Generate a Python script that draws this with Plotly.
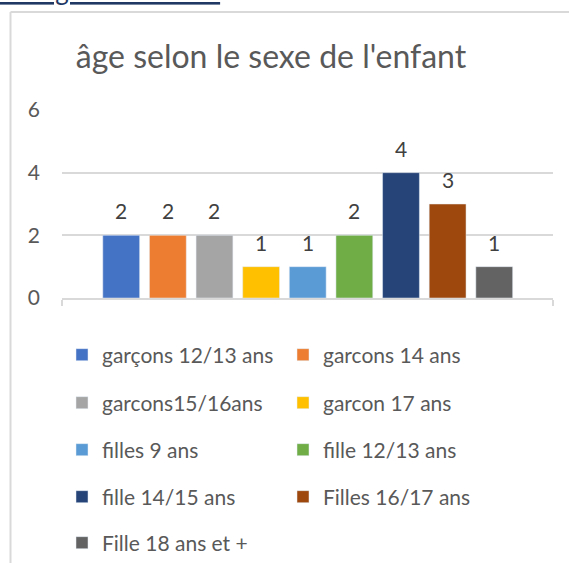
import plotly.graph_objects as go

series_names = ["garçons 12/13 ans", "garcons 14 ans", "garcons15/16ans", "garcon 17 ans",
                "filles 9 ans", "fille 12/13 ans", "fille 14/15 ans", "Filles 16/17 ans",
                "Fille 18 ans et +"]
series_values = [2, 2, 2, 1, 1, 2, 4, 3, 1]
series_colors = ["#4472C4", "#ED7D31", "#A5A5A5", "#FFC000", "#5B9BD5",
                 "#70AD47", "#264478", "#9E480E", "#636363"]
y_ticks = [0, 2, 4, 6]
title_text = "âge selon le sexe de l'enfant"
link_text = "sur l'âge des enfants"

FONT = "Lato"
W, H = 569, 563
L, R, T, B = 62, 16, 110, 265
PW, PH = W - L - R, H - T - B


def px_to_paper_y(py):
    return (T + PH - py) / PH


def px_to_paper_x(px):
    return (px - L) / PW


fig = go.Figure()
row_y_px = [355, 403, 450, 497, 543]
for i, (name, val, col) in enumerate(zip(series_names, series_values, series_colors)):
    leg = "legend" if i // 2 == 0 else f"legend{i // 2 + 1}"
    fig.add_trace(go.Bar(
        x=[i], y=[val], name=name, marker_color=col, width=0.79,
        legend=leg, hoverinfo="name+y",
    ))
    fig.add_annotation(x=i, y=val, text=str(val), showarrow=False, yanchor="bottom",
                       yshift=10, font=dict(family=FONT, size=21, color="#404040"))

n = len(series_names)
xr = [-1.27, n - 1 + 1.26]

legends = {}
for r, py in enumerate(row_y_px):
    key = "legend" if r == 0 else f"legend{r + 1}"
    legends[key] = dict(
        orientation="h", x=px_to_paper_x(62), xanchor="left",
        y=px_to_paper_y(py), yanchor="middle",
        entrywidth=176, entrywidthmode="pixels",
        font=dict(family=FONT, size=21, color="#595959"),
        bgcolor="rgba(0,0,0,0)", itemclick=False, itemdoubleclick=False,
    )

fig.update_layout(
    width=W, height=H,
    margin=dict(l=L, r=R, t=T, b=B, autoexpand=False),
    paper_bgcolor="white", plot_bgcolor="white",
    barmode="overlay",
    showlegend=True,
    title=dict(text=title_text, x=271 / W, xanchor="center", xref="container",
               y=1 - 57 / H, yanchor="middle", yref="container",
               font=dict(family=FONT, size=32, color="#595959")),
    xaxis=dict(range=xr, showgrid=False, zeroline=False, showline=True,
               linecolor="#D9D9D9", linewidth=2,
               tickmode="array", tickvals=xr, ticktext=["", ""],
               ticks="outside", ticklen=6, tickcolor="#D9D9D9", tickwidth=2,
               fixedrange=True, automargin=False),
    yaxis=dict(range=[0, 6], tickmode="array", tickvals=y_ticks,
               showgrid=True, gridcolor="#D9D9D9", gridwidth=1.5,
               zeroline=False, showline=False, ticks="",
               ticklabelstandoff=21,
               tickfont=dict(family=FONT, size=21, color="#595959"),
               fixedrange=True, automargin=False),
    **legends,
)

# chart frame border (left and top) and cut-off link text above
fig.add_shape(type="line", xref="paper", yref="paper",
              x0=px_to_paper_x(10.5), x1=px_to_paper_x(10.5),
              y0=px_to_paper_y(12), y1=px_to_paper_y(H + 5),
              line=dict(color="#D9D9D9", width=2))
fig.add_shape(type="line", xref="paper", yref="paper",
              x0=px_to_paper_x(10.5), x1=px_to_paper_x(W + 5),
              y0=px_to_paper_y(12), y1=px_to_paper_y(12),
              line=dict(color="#D9D9D9", width=2))
fig.add_annotation(xref="paper", yref="paper", x=px_to_paper_x(222), xanchor="right",
                   y=px_to_paper_y(8), yanchor="bottom",
                   text=f"<u>{link_text}</u>", showarrow=False,
                   font=dict(family=FONT, size=26, color="#1F3864"))

fig.write_html("out.html", config={"displayModeBar": False},
               post_script="document.body.style.margin='0';")
